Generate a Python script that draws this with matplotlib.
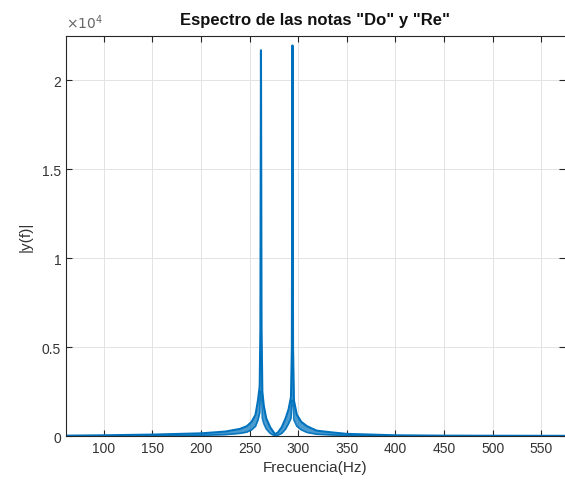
import matplotlib
matplotlib.use("Agg")
import matplotlib.pyplot as plt
from matplotlib.ticker import FuncFormatter

plt.rcParams['font.family'] = ['Liberation Sans', 'DejaVu Sans']

# spectrum (Hz, |y(f)|), upper and lower edge of the band
freq = [61, 100, 150, 200, 225, 240, 247, 252, 256, 258.5, 260.3, 261.0, 261.6,
        262.2, 263, 264.5, 267, 271, 276, 279, 283, 287, 290, 292.5, 293.4,
        294.0, 294.6, 295.5, 298.5, 303, 309, 319, 335, 350, 400, 450, 500, 574]
mag_hi = [20, 40, 80, 150, 250, 400, 550, 800, 1200, 2000, 2800, 6000, 21700,
          6000, 2500, 1700, 1000, 500, 100, 200, 500, 1000, 1500, 2200, 5000,
          21970, 5000, 2000, 1200, 800, 550, 300, 200, 120, 40, 20, 15, 10]
mag_lo = [0, 10, 20, 40, 80, 150, 220, 350, 550, 900, 1300, 2500, 2500,
          2500, 1000, 700, 400, 150, 0, 50, 150, 400, 700, 1000, 2000,
          2000, 2000, 900, 550, 350, 200, 100, 60, 30, 10, 5, 2, 0]

xticks = [100, 150, 200, 250, 300, 350, 400, 450, 500, 550]
yticks = [0, 5000, 10000, 15000, 20000]

blue = '#0072BD'
dark = '#262626'

fig = plt.figure(figsize=(5.65, 4.89), dpi=100)
ax = fig.add_axes([0.1168, 0.1063, 0.8832, 0.818])

ax.fill_between(freq, mag_lo, mag_hi, color=blue, alpha=0.7, lw=0)
ax.plot(freq, mag_hi, color=blue, lw=1.5)
ax.plot(freq, mag_lo, color=blue, lw=1.2, alpha=0.9)

ax.set_xlim(61, 574.4)
ax.set_ylim(0, 22500)
ax.set_xticks(xticks)
ax.set_yticks(yticks)
ax.yaxis.set_major_formatter(FuncFormatter(lambda v, p: '%g' % (v / 1e4)))
ax.text(0.0, 1.012, r'$\times10^{4}$', transform=ax.transAxes, fontsize=10,
        color='#666666', ha='left', va='bottom')

ax.grid(True, color='#e3e3e3', lw=0.7)
ax.set_axisbelow(True)
ax.tick_params(direction='in', length=4, width=0.8, colors=dark,
               labelcolor='#333333', labelsize=10, top=True, right=True)
for s in ['left', 'top', 'bottom']:
    ax.spines[s].set_color(dark)
    ax.spines[s].set_linewidth(0.8)
ax.spines['right'].set_visible(False)

ax.set_title('Espectro de las notas "Do" y "Re"', fontsize=12, fontweight='bold',
             color='#111111', pad=9)
ax.set_xlabel('Frecuencia(Hz)', fontsize=11, color='#333333', labelpad=4)
ax.set_ylabel('|y(f)|', fontsize=11, color='#333333', labelpad=7)

fig.savefig('out.png', dpi=100)
